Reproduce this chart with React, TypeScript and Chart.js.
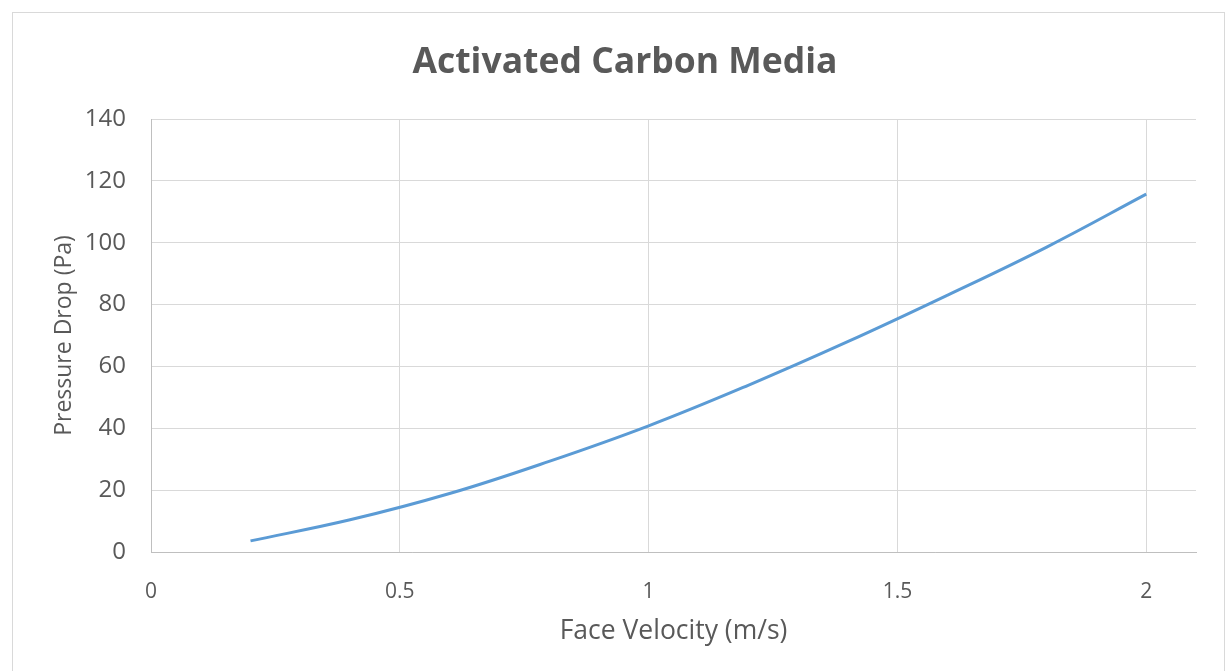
import React, { useEffect, useRef } from "react";
import { Chart, registerables } from "chart.js";

Chart.register(...registerables);

const velocities = [0.2, 0.4, 0.6, 0.8, 1.0, 1.2, 1.4, 1.6, 1.8, 2.0];
const pressureDrop = [3.6, 10.4, 18.9, 29.3, 40.8, 53.9, 68.0, 83.0, 98.6, 115.7];
const xTicks = [0, 0.5, 1, 1.5, 2];
const yTicks = [0, 20, 40, 60, 80, 100, 120, 140];

const TEXT = "#595959";
const GRID = "#d9d9d9";
const FONT = "'Open Sans', 'Noto Sans', sans-serif";

export default function App() {
  const ref = useRef<HTMLCanvasElement | null>(null);

  useEffect(() => {
    document.body.style.overflow = "hidden";
    const canvas = ref.current;
    if (!canvas) return;
    const chart = new Chart(canvas, {
      type: "line",
      data: {
        datasets: [
          {
            label: "Pressure Drop",
            data: velocities.map((v, i) => ({ x: v, y: pressureDrop[i] })),
            borderColor: "#5b9bd5",
            backgroundColor: "#5b9bd5",
            borderWidth: 3,
            pointRadius: 0,
            tension: 0.4,
            fill: false,
          },
        ],
      },
      options: {
        animation: false,
        responsive: false,
        maintainAspectRatio: false,
        layout: { padding: { left: 54, right: 35, top: 0, bottom: 0 } },
        plugins: {
          legend: { display: false },
          tooltip: { enabled: false },
          title: {
            display: true,
            text: "Activated Carbon Media",
            color: TEXT,
            font: { family: FONT, size: 35.5, weight: "bold", lineHeight: 1.2 },
            padding: { top: 42, bottom: 34.4 },
          },
        },
        scales: {
          x: {
            type: "linear",
            min: 0,
            max: 2.1,
            afterBuildTicks: (s: any) => {
              s.ticks = xTicks.map((v) => ({ value: v }));
            },
            afterFit: (s: any) => {
              s.height = 119;
            },
            grid: { color: GRID, lineWidth: 1, drawTicks: false },
            border: { color: "#bfbfbf", width: 1 },
            ticks: {
              color: TEXT,
              font: { family: FONT, size: 21 },
              padding: 27,
              autoSkip: false,
              maxRotation: 0,
              callback: (v: any) => String(v),
            },
            title: {
              display: true,
              text: "Face Velocity (m/s)",
              color: TEXT,
              font: { family: FONT, size: 26.5 },
              padding: { top: 10, bottom: 24 },
            },
          },
          y: {
            type: "linear",
            min: 0,
            max: 140,
            afterBuildTicks: (s: any) => {
              s.ticks = yTicks.map((v) => ({ value: v }));
            },
            afterFit: (s: any) => {
              s.width = 97;
            },
            grid: { color: GRID, lineWidth: 1, drawTicks: false },
            border: { color: "#bfbfbf", width: 1 },
            ticks: {
              color: TEXT,
              font: { family: FONT, size: 24 },
              padding: 25,
              callback: (v: any) => String(v),
            },
            title: {
              display: true,
              text: "Pressure Drop (Pa)",
              color: TEXT,
              font: { family: FONT, size: 23 },
              padding: { top: -3, bottom: 0 },
            },
          },
        },
      },
    });
    return () => chart.destroy();
  }, []);

  return (
    <div style={{ position: "fixed", left: 0, top: 0, width: 1231, height: 671, background: "#fff", overflow: "hidden" }}>
      <div
        style={{
          position: "absolute",
          left: 12,
          top: 12,
          width: 1213,
          height: 700,
          border: "1px solid #d9d9d9",
          boxSizing: "border-box",
        }}
      />
      <canvas ref={ref} width={1231} height={671} style={{ position: "absolute", left: 0, top: 0, width: 1231, height: 671 }} />
    </div>
  );
}
